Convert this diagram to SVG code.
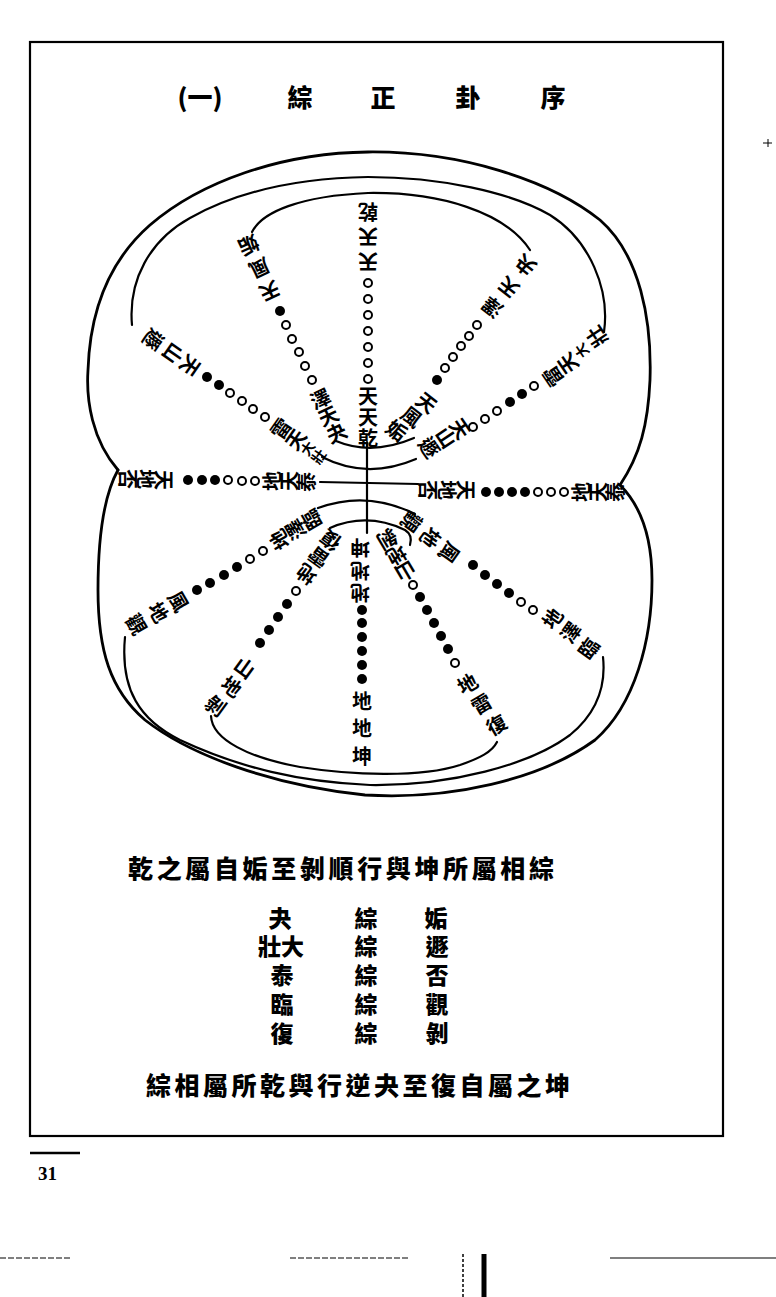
<svg xmlns="http://www.w3.org/2000/svg" width="776" height="1297" viewBox="0 0 776 1297">
<style>
.bg{fill:#fff}
.ln{fill:none;stroke:#000;stroke-width:2.2;stroke-linecap:round}
.ol{fill:none;stroke:#000;stroke-width:2.8;stroke-linecap:round}
.c{font-family:"Noto Sans CJK TC","Noto Sans CJK SC",sans-serif;font-weight:700;font-size:20px;text-anchor:middle;dominant-baseline:central;fill:#000}
.s{font-size:14px}
.o{fill:#fff;stroke:#000;stroke-width:2}
.f{fill:#000}
.t{font-family:"Noto Sans CJK TC","Noto Sans CJK SC",serif;font-weight:900;font-size:25px;text-anchor:middle;dominant-baseline:central;fill:#000}
.tb{font-family:"Noto Sans CJK TC","Noto Sans CJK SC",serif;font-weight:900;font-size:23px;text-anchor:middle;dominant-baseline:central;fill:#000}
.b{font-family:"Noto Sans CJK TC","Noto Sans CJK SC",serif;font-weight:900;font-size:25px;dominant-baseline:central;fill:#000}
.art{stroke:#000;fill:none}
</style>
<rect class="bg" x="0" y="0" width="776" height="1297"/>
<rect id="frame" x="30" y="42" width="693" height="1094" fill="none" stroke="#000" stroke-width="2.2"/>

<g id="title">
<text class="t" x="200" y="96" font-size="24">(一)</text>
<text class="t" x="300" y="96">綜</text>
<text class="t" x="383" y="96">正</text>
<text class="t" x="468" y="96">卦</text>
<text class="t" x="553" y="96">序</text>
</g>

<g id="connectors">
<path class="ol" d="M118,470 C92,440 86,400 88,370 C90,310 110,260 150,225 C200,182 280,153 368,152 C460,151 550,180 600,220 C640,255 652,320 650,380 C648,425 640,455 620,485"/>
<path class="ol" d="M118,470 C104,495 98,540 98,590 C98,650 110,690 145,720 C190,755 270,785 365,795 C450,800 540,780 595,740 C635,705 652,640 652,580 C652,535 640,505 620,485"/>
<path class="ln" d="M132,325 C128,280 150,240 190,218 C240,190 300,178 368,177 C440,177 510,192 550,215 C590,240 610,290 604,332"/>
<path class="ln" d="M252,232 C262,212 300,196 368,193 C440,192 505,212 530,250"/>
<path class="ln" d="M125,637 C120,690 140,720 180,740 C240,768 300,782 370,785 C450,786 530,765 570,735 C598,712 606,685 603,657"/>
<path class="ln" d="M211,716 C212,740 250,758 300,767 C350,775 420,778 460,765 C480,758 492,752 497,742"/>
<path class="ln" d="M367,442 L367,533"/>
<path class="ln" d="M336,441 Q372,456 414,438"/>
<path class="ln" d="M322,457 Q367,480 416,459"/>
<path class="ln" d="M320,482 L418,484"/>
<path class="ln" d="M318,508 Q367,490 415,514"/>
<path class="ln" d="M330,528 Q367,512 405,530 Q413,535 410,545"/>
</g>

<g id="spoke-top">
<text class="c" transform="rotate(180 368 212)" x="368" y="212">乾</text>
<text class="c" transform="rotate(180 368 237)" x="368" y="237">天</text>
<text class="c" transform="rotate(180 368 262)" x="368" y="262">天</text>
<circle class="o" cx="368" cy="283" r="4"/><circle class="o" cx="368" cy="299" r="4"/><circle class="o" cx="368" cy="315" r="4"/><circle class="o" cx="368" cy="331" r="4"/><circle class="o" cx="368" cy="347" r="4"/><circle class="o" cx="368" cy="363" r="4"/><circle class="o" cx="368" cy="379" r="4"/>
<text class="c" x="368" y="395">天</text>
<text class="c" x="368" y="416">天</text>
<text class="c" x="368" y="437">乾</text>
</g>

<g id="spoke-gou-guai">
<text class="c" transform="rotate(155 249 246)" x="249" y="246">姤</text>
<text class="c" transform="rotate(155 260 269)" x="260" y="269">風</text>
<text class="c" transform="rotate(155 270 292)" x="270" y="292">天</text>
<circle class="f" cx="280" cy="311" r="5"/>
<circle class="o" cx="286" cy="325" r="4"/><circle class="o" cx="292" cy="339" r="4"/><circle class="o" cx="299" cy="352" r="4"/><circle class="o" cx="305" cy="366" r="4"/><circle class="o" cx="312" cy="380" r="4"/>
<text class="c" transform="rotate(-25 320 398)" x="320" y="398">澤</text>
<text class="c" transform="rotate(-25 328 415)" x="328" y="415">天</text>
<text class="c" transform="rotate(-25 336 432)" x="336" y="432">夬</text>
</g>

<g id="spoke-dun-dazhuang">
<text class="c" transform="rotate(125 154 340)" x="154" y="340">遯</text>
<text class="c" transform="rotate(125 174 354)" x="174" y="354">山</text>
<text class="c" transform="rotate(125 191 366)" x="191" y="366">天</text>
<circle class="f" cx="207" cy="377" r="5"/><circle class="f" cx="219" cy="385" r="5"/>
<circle class="o" cx="230" cy="393" r="4"/><circle class="o" cx="242" cy="401" r="4"/><circle class="o" cx="253" cy="409" r="4"/><circle class="o" cx="265" cy="417" r="4"/>
<text class="c" transform="rotate(-55 280 428)" x="280" y="428">雷</text>
<text class="c" transform="rotate(-55 295 439)" x="295" y="439">天</text>
<text class="c s" transform="rotate(-55 307 448)" x="307" y="448">大</text>
<text class="c s" transform="rotate(-55 318 456)" x="318" y="456">壯</text>
</g>

<g id="spoke-pi-tai">
<text class="c" transform="rotate(90 128 479)" x="128" y="479">否</text>
<text class="c" transform="rotate(90 146 479)" x="146" y="479">地</text>
<text class="c" transform="rotate(90 164 480)" x="164" y="480">天</text>
<circle class="f" cx="188" cy="480" r="5"/><circle class="f" cx="202" cy="480" r="5"/><circle class="f" cx="215" cy="480" r="5"/>
<circle class="o" cx="228" cy="480" r="4"/><circle class="o" cx="242" cy="481" r="4"/><circle class="o" cx="255" cy="481" r="4"/>
<text class="c" transform="rotate(-90 271 481)" x="271" y="481">地</text>
<text class="c" transform="rotate(-90 288 481)" x="288" y="481">天</text>
<text class="c" transform="rotate(-90 305 482)" x="305" y="482">泰</text>
</g>

<g id="spoke-guan-lin">
<text class="c" transform="rotate(60 137 624)" x="137" y="624">觀</text>
<text class="c" transform="rotate(60 159 612)" x="159" y="612">地</text>
<text class="c" transform="rotate(60 179 601)" x="179" y="601">風</text>
<circle class="f" cx="197" cy="590" r="5"/><circle class="f" cx="210" cy="583" r="5"/><circle class="f" cx="224" cy="575" r="5"/><circle class="f" cx="237" cy="567" r="5"/>
<circle class="o" cx="250" cy="559" r="4"/><circle class="o" cx="263" cy="551" r="4"/>
<text class="c" transform="rotate(-120 279 540)" x="279" y="540">地</text>
<text class="c" transform="rotate(-120 295 530)" x="295" y="530">澤</text>
<text class="c" transform="rotate(-120 311 520)" x="311" y="520">臨</text>
</g>

<g id="spoke-bo-fu">
<text class="c" transform="rotate(36 216 705)" x="216" y="705">剝</text>
<text class="c" transform="rotate(36 232 686)" x="232" y="686">地</text>
<text class="c" transform="rotate(36 245 667)" x="245" y="667">山</text>
<circle class="f" cx="260" cy="643" r="5"/><circle class="f" cx="269" cy="630" r="5"/><circle class="f" cx="278" cy="617" r="5"/><circle class="f" cx="287" cy="604" r="5"/>
<circle class="o" cx="296" cy="591" r="4"/>
<text class="c" transform="rotate(-144 306 575)" x="306" y="575">地</text>
<text class="c" transform="rotate(-144 318 558)" x="318" y="558">雷</text>
<text class="c" transform="rotate(-144 330 541)" x="330" y="541">復</text>
</g>

<g id="spoke-bottom">
<text class="c" transform="rotate(180 360 548)" x="360" y="548">坤</text>
<text class="c" transform="rotate(180 360 571)" x="360" y="571">地</text>
<text class="c" transform="rotate(180 360 593)" x="360" y="593">地</text>
<circle class="f" cx="362" cy="610" r="5"/><circle class="f" cx="362" cy="623" r="5"/><circle class="f" cx="362" cy="637" r="5"/><circle class="f" cx="362" cy="651" r="5"/><circle class="f" cx="362" cy="665" r="5"/><circle class="f" cx="362" cy="679" r="5"/>
<text class="c" x="362" y="700">地</text>
<text class="c" x="362" y="727">地</text>
<text class="c" x="362" y="755">坤</text>
</g>

<g id="spoke-bo-fu-right">
<text class="c" transform="rotate(149.5 388 540)" x="388" y="540">剝</text>
<text class="c" transform="rotate(149.5 397 556)" x="397" y="556">地</text>
<text class="c" transform="rotate(149.5 406 572)" x="406" y="572">山</text>
<circle class="o" cx="413" cy="585" r="4"/>
<circle class="f" cx="420" cy="597" r="5"/><circle class="f" cx="427" cy="610" r="5"/><circle class="f" cx="434" cy="623" r="5"/><circle class="f" cx="441" cy="636" r="5"/><circle class="f" cx="448" cy="649" r="5"/>
<circle class="o" cx="455" cy="663" r="4"/>
<text class="c" transform="rotate(-30.5 467 683)" x="467" y="683">地</text>
<text class="c" transform="rotate(-30.5 481 703)" x="481" y="703">雷</text>
<text class="c" transform="rotate(-30.5 496 724)" x="496" y="724">復</text>
</g>

<g id="spoke-guan-lin-right">
<text class="c" transform="rotate(125.5 412 522)" x="412" y="522">觀</text>
<text class="c" transform="rotate(125.5 431 538)" x="431" y="538">地</text>
<text class="c" transform="rotate(125.5 450 553)" x="450" y="553">風</text>
<circle class="f" cx="473" cy="565" r="5"/><circle class="f" cx="485" cy="575" r="5"/><circle class="f" cx="497" cy="584" r="5"/><circle class="f" cx="509" cy="593" r="5"/>
<circle class="o" cx="521" cy="602" r="4"/><circle class="o" cx="533" cy="610" r="4"/>
<text class="c" transform="rotate(-54.5 552 618)" x="552" y="618">地</text>
<text class="c" transform="rotate(-54.5 570 632)" x="570" y="632">澤</text>
<text class="c" transform="rotate(-54.5 588 648)" x="588" y="648">臨</text>
</g>

<g id="spoke-pi-tai-right">
<text class="c" transform="rotate(90 428 490)" x="428" y="490">否</text>
<text class="c" transform="rotate(90 447 490)" x="447" y="490">地</text>
<text class="c" transform="rotate(90 466 490)" x="466" y="490">天</text>
<circle class="f" cx="486" cy="492" r="5"/><circle class="f" cx="499" cy="492" r="5"/><circle class="f" cx="512" cy="492" r="5"/><circle class="f" cx="525" cy="492" r="5"/>
<circle class="o" cx="538" cy="492" r="4"/><circle class="o" cx="551" cy="492" r="4"/><circle class="o" cx="564" cy="492" r="4"/>
<text class="c" transform="rotate(-90 580 492)" x="580" y="492">地</text>
<text class="c" transform="rotate(-90 597 492)" x="597" y="492">天</text>
<text class="c" transform="rotate(-90 614 492)" x="614" y="492">泰</text>
</g>

<g id="spoke-dun-dazhuang-right">
<text class="c" transform="rotate(56 430 447)" x="430" y="447">遯</text>
<text class="c" transform="rotate(56 447 437)" x="447" y="437">山</text>
<text class="c" transform="rotate(56 461 428)" x="461" y="428">天</text>
<circle class="o" cx="473" cy="427" r="4"/><circle class="o" cx="485" cy="419" r="4"/><circle class="o" cx="497" cy="411" r="4"/>
<circle class="f" cx="510" cy="402" r="5"/><circle class="f" cx="522" cy="394" r="5"/>
<circle class="o" cx="534" cy="386" r="4"/>
<text class="c" transform="rotate(-124 552 377)" x="552" y="377">雷</text>
<text class="c" transform="rotate(-124 567 364)" x="567" y="364">天</text>
<text class="c s" transform="rotate(-124 581 351)" x="581" y="351">大</text>
<text class="c" transform="rotate(-124 596 337)" x="596" y="337">壯</text>
</g>

<g id="spoke-gou-guai-right">
<text class="c" transform="rotate(38 397 430)" x="397" y="430">姤</text>
<text class="c" transform="rotate(38 412 416)" x="412" y="416">風</text>
<text class="c" transform="rotate(38 427 402)" x="427" y="402">天</text>
<circle class="f" cx="437" cy="380" r="5"/>
<circle class="o" cx="445" cy="368" r="4"/><circle class="o" cx="453" cy="357" r="4"/><circle class="o" cx="461" cy="346" r="4"/><circle class="o" cx="469" cy="336" r="4"/><circle class="o" cx="477" cy="325" r="4"/>
<text class="c" transform="rotate(-142 492 308)" x="492" y="308">澤</text>
<text class="c" transform="rotate(-142 508 288)" x="508" y="288">天</text>
<text class="c" transform="rotate(-142 525 266)" x="525" y="266">夬</text>
</g>

<g id="caption-top">
<text class="b" x="128" y="867" textLength="426" lengthAdjust="spacing">乾之屬自姤至剝順行與坤所屬相綜</text>
</g>

<g id="table">
<text class="tb" x="280" y="917">夬</text><text class="tb" x="366" y="917">綜</text><text class="tb" x="436" y="917">姤</text>
<text class="tb" x="281" y="945">壯大</text><text class="tb" x="366" y="945">綜</text><text class="tb" x="437" y="945">遯</text>
<text class="tb" x="282" y="974">泰</text><text class="tb" x="366" y="974">綜</text><text class="tb" x="437" y="974">否</text>
<text class="tb" x="282" y="1003">臨</text><text class="tb" x="366" y="1003">綜</text><text class="tb" x="437" y="1003">觀</text>
<text class="tb" x="282" y="1032">復</text><text class="tb" x="366" y="1032">綜</text><text class="tb" x="437" y="1032">剝</text>
</g>

<g id="caption-bottom">
<text class="b" x="146" y="1084" textLength="424" lengthAdjust="spacing">綜相屬所乾與行逆夬至復自屬之坤</text>
</g>

<g id="page-number">
<line x1="30" y1="1153" x2="80" y2="1153" stroke="#000" stroke-width="2.5"/>
<text x="38" y="1180" font-family="Liberation Serif, serif" font-size="19" font-weight="700" fill="#000">31</text>
</g>

<g id="scan-marks">
<path class="art" stroke-width="1" d="M763,143 L772,143 M768,139 L768,147"/>
<path class="art" stroke-width="1" stroke-dasharray="6,2" d="M0,1258 L70,1258 M290,1258 L410,1258"/>
<path class="art" stroke-width="1.2" d="M610,1258 L776,1258"/>
<path class="art" stroke-width="1.5" stroke-dasharray="3,2" d="M463,1254 L463,1297"/>
<path class="art" stroke-width="5" d="M484,1254 L484,1297"/>
</g>
</svg>
